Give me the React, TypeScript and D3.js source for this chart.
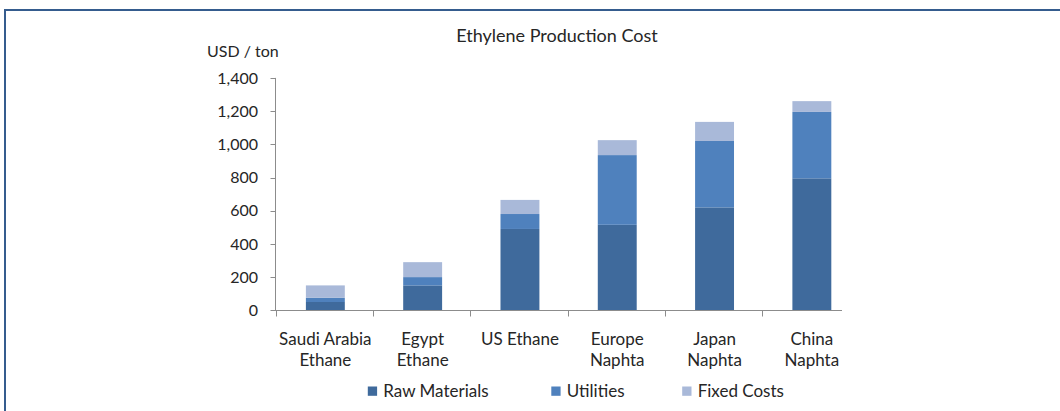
import React from "react";
import * as d3 from "d3";

const categories: string[][] = [
  ["Saudi Arabia", "Ethane"],
  ["Egypt", "Ethane"],
  ["US Ethane"],
  ["Europe", "Naphta"],
  ["Japan", "Naphta"],
  ["China", "Naphta"],
];
const seriesNames = ["Raw Materials", "Utilities", "Fixed Costs"];
const rawMaterials = [50, 150, 490, 515, 620, 795];
const utilities = [25, 50, 90, 420, 400, 400];
const fixedCosts = [75, 90, 85, 90, 115, 65];
const yTicks = [0, 200, 400, 600, 800, 1000, 1200, 1400];
const colors = ["#3F6A9C", "#4F81BD", "#A9B9D9"];

const FONT = "Lato, 'Open Sans', sans-serif";

export default function App() {
  const keys = categories.map((c) => c.join(" "));
  const rows = keys.map((k, i) => ({
    key: k,
    "Raw Materials": rawMaterials[i],
    Utilities: utilities[i],
    "Fixed Costs": fixedCosts[i],
  }));
  const stacked = d3.stack<any>().keys(seriesNames)(rows);

  const x0 = 276.7;
  const step = 97.3;
  const x = d3
    .scaleBand<string>()
    .domain(keys)
    .range([x0, x0 + step * keys.length])
    .paddingInner(0.6)
    .paddingOuter(0.3);
  const y = d3.scaleLinear().domain([0, 1400]).range([310.3, 77.9]);
  const axisColor = "#8C8C8C";
  const textColor = "#262626";
  const fmt = d3.format(",");

  return (
    <svg
      width={1060}
      height={411}
      style={{ position: "absolute", left: 0, top: 0, background: "#fff" }}
    >
      <rect x={0} y={0} width={1060} height={411} fill="#fff" />
      {/* frame */}
      <rect x={5} y={10} width={1200} height={600} fill="none" stroke="#355C8E" strokeWidth={2} />

      <text x={557} y={41.7} textAnchor="middle" fontFamily={FONT} fontSize={18} fill={textColor}>
        Ethylene Production Cost
      </text>
      <text x={207} y={57.3} fontFamily={FONT} fontSize={16} fill={textColor}>
        USD / ton
      </text>

      {/* bars */}
      {stacked.map((s, si) => (
        <g key={s.key} fill={colors[si]}>
          {s.map((d, i) => (
            <rect
              key={i}
              x={x(keys[i])!}
              y={y(d[1])}
              width={x.bandwidth()}
              height={y(d[0]) - y(d[1])}
            />
          ))}
        </g>
      ))}

      {/* y axis */}
      <line x1={275.5} x2={275.5} y1={y(1400)} y2={y(0)} stroke={axisColor} />
      {yTicks.map((t) => (
        <g key={t}>
          <line x1={270.5} x2={275.5} y1={Math.round(y(t)) + 0.5} y2={Math.round(y(t)) + 0.5} stroke={axisColor} />
          <text
            x={258}
            y={y(t) + 5.6}
            textAnchor="end"
            fontFamily={FONT}
            fontSize={16}
            fill={textColor}
          >
            {fmt(t)}
          </text>
        </g>
      ))}

      {/* x axis */}
      <line x1={275} x2={842} y1={310.5} y2={310.5} stroke={axisColor} />
      {keys.map((k, i) => {
        const bx = Math.round(x0 + i * step) - 0.5;
        return <line key={k} x1={bx} x2={bx} y1={310.5} y2={316.5} stroke={axisColor} />;
      })}
      {categories.map((lines, i) => {
        const cx = x(keys[i])! + x.bandwidth() / 2;
        return (
          <text key={i} textAnchor="middle" fontFamily={FONT} fontSize={17} fill={textColor}>
            {lines.map((l, j) => (
              <tspan key={j} x={cx} y={345 + j * 20.7}>
                {l}
              </tspan>
            ))}
          </text>
        );
      })}

      {/* legend */}
      {seriesNames.map((n, i) => {
        const lx = [367.8, 551.3, 682.2][i];
        return (
          <g key={n}>
            <rect x={lx} y={386.5} width={9.3} height={9.3} fill={colors[i]} />
            <text x={lx + 15.5} y={396.7} fontFamily={FONT} fontSize={17} fill={textColor}>
              {n}
            </text>
          </g>
        );
      })}
    </svg>
  );
}
